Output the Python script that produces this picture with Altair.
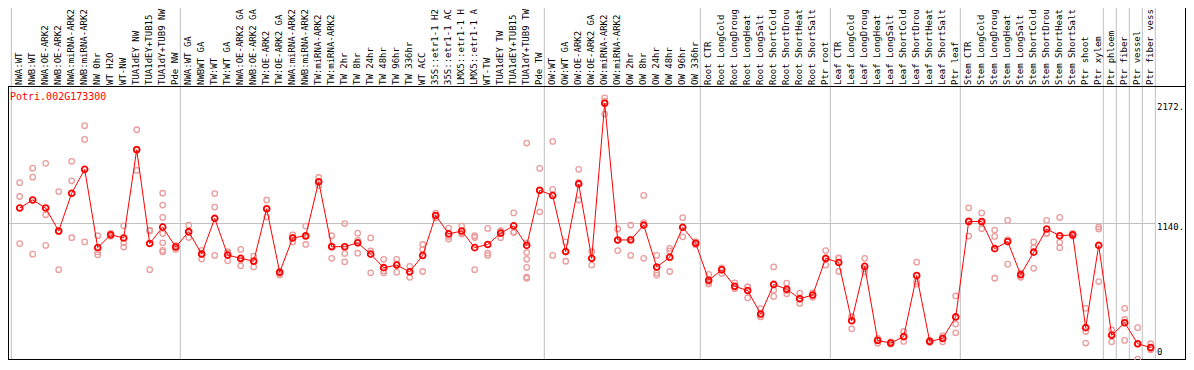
import altair as alt
import pandas as pd

gene = "Potri.002G173300"

labels = [
    "NWA:WT", "NWB:WT", "NWA:OE-ARK2", "NWB:OE-ARK2", "NWA:miRNA-ARK2", "NWB:miRNA-ARK2",
    "NW 0hr", "WT H2O", "WT-NW", "TUA1dEY NW", "TUA1dEY+TUB15", "TUA1dY+TUB9 NW", "Pde NW",
    "NWA:WT GA", "NWBWT GA", "TW:WT", "TW:WT GA", "NWA:OE-ARK2 GA", "NWB:OE-ARK2 GA",
    "TW:OE-ARK2", "TW:OE-ARK2 GA", "NWA:miRNA-ARK2", "NWB:miRNA-ARK2", "TW:miRNA-ARK2",
    "TW:miRNA-ARK2", "TW 2hr", "TW 8hr", "TW 24hr", "TW 48hr", "TW 96hr", "TW 336hr", "WT ACC",
    "35S::etr1-1 H2", "35S::etr1-1 AC", "LMX5::etr1-1 H", "LMX5::etr1-1 A", "WT-TW",
    "TUA1dEY TW", "TUA1dEY+TUB15", "TUA1dY+TUB9 TW", "Pde TW",
    "OW:WT", "OW:WT GA", "OW:OE-ARK2", "OW:OE-ARK2 GA", "OW:miRNA-ARK2", "OW:miRNA-ARK2",
    "OW 2hr", "OW 8hr", "OW 24hr", "OW 48hr", "OW 96hr", "OW 336hr",
    "Root CTR", "Root LongCold", "Root LongDroug", "Root LongHeat", "Root LongSalt",
    "Root ShortCold", "Root ShortDrou", "Root ShortHeat", "Root ShortSalt", "Ptr root",
    "Leaf CTR", "Leaf LongCold", "Leaf LongDroug", "Leaf LongHeat", "Leaf LongSalt",
    "Leaf ShortCold", "Leaf ShortDrou", "Leaf ShortHeat", "Leaf ShortSalt", "Ptr leaf",
    "Stem CTR", "Stem LongCold", "Stem LongDroug", "Stem LongHeat", "Stem LongSalt",
    "Stem ShortCold", "Stem ShortDrou", "Stem ShortHeat", "Stem ShortSalt", "Ptr shoot",
    "Ptr xylem", "Ptr phloem", "Ptr fiber", "Ptr vessel", "Ptr fiber vess",
]

means = [
    1273, 1342, 1273, 1076, 1400, 1605, 933, 1043, 1016, 1773, 968, 1109, 938,
    1070, 877, 1184, 869, 841, 816, 1267, 722, 1016, 1035, 1499, 941, 941, 974, 877,
    761, 783, 725, 866, 1209, 1051, 1076, 933, 960, 1057, 1120, 952, 1425,
    1381, 899, 1480, 841, 2172, 999, 999, 1126, 767, 850, 1107, 971,
    653, 742, 601, 564, 363, 617, 576, 495, 526, 841,
    805, 305, 772, 136, 114, 169, 694, 128, 153, 338,
    1157, 1157, 924, 985, 700, 894, 1093, 1035, 1043, 246, 952,
    180, 288, 108, 75,
]

reps = [
    [1491, 1372, 968], [1615, 1538, 877], [1657, 1215, 952], [1414, 1070, 744],
    [1674, 1507, 1018], [1980, 1862, 982], [1035, 896, 871], [1055, 1043, 1031],
    [1120, 974, 938], [1945, 1778, 1596], [1084, 1076, 744],
    [1400, 1298, 1192, 1054, 974, 910, 896], [952, 938, 918],
    [1126, 1064, 1020], [910, 886, 835], [1397, 1281, 866], [899, 887, 821],
    [918, 828, 777], [860, 821, 767], [1342, 1264, 1195], [730, 711, 697],
    [1043, 1023, 982], [1118, 1027, 960], [1535, 1496, 1466], [1035, 947, 841],
    [1140, 883, 811], [1057, 996, 885], [1016, 904, 717], [833, 733, 717],
    [833, 794, 722], [772, 725, 678], [960, 916, 728], [1230, 1209, 1188],
    [1101, 1029, 1007], [1118, 1059, 1051], [1035, 1020, 744], [1098, 885, 866],
    [1079, 1074, 1018], [1231, 1067, 1062], [1831, 974, 891, 833, 763, 680, 670],
    [1613, 1422, 1240],
    [1845, 1433, 866], [982, 899, 816], [1605, 1493, 1342], [899, 841, 783],
    [2219, 2190, 2080], [1093, 996, 908], [1126, 1005, 866], [1381, 1148, 841],
    [866, 717, 697], [927, 904, 728], [1190, 1105, 1026], [985, 971, 957],
    [703, 636, 620], [760, 755, 711], [631, 592, 580], [596, 595, 501],
    [410, 341, 338], [767, 568, 514], [628, 563, 537], [543, 488, 454],
    [545, 526, 507], [908, 832, 783],
    [844, 843, 728], [340, 339, 236], [841, 750, 725], [153, 144, 111],
    [124, 114, 104], [213, 166, 128], [808, 642, 620], [138, 128, 118],
    [178, 157, 124], [518, 277, 202],
    [1275, 1164, 1032], [1231, 1145, 1095], [1084, 1029, 670], [1167, 1001, 791],
    [717, 705, 678], [982, 933, 755], [1167, 1057, 1055], [1192, 979, 933],
    [1055, 1043, 1031], [412, 213, 114], [1112, 1093, 642],
    [227, 189, 124], [412, 316, 136], [246, 105, -25], [108, 61, 56],
]

group_sizes = [13, 28, 12, 10, 10, 11, 1, 1, 1, 1]

tick_values = [2172, 1140]
tick_texts = ["2172.", "1140."]
zero_value = [0]
zero_text = ["0"]
grid_values = [1140]

# ---- layout / styling ----
W, H = 1178, 352
COL_PX = 13.0
FIRST_PX = 11.7
x_lo = -FIRST_PX / COL_PX
x_domain = [x_lo, x_lo + W / COL_PX]
px_per_unit = 0.116476
zero_px = 348.3
y_domain = [(zero_px - H) / px_per_unit, zero_px / px_per_unit]

RED = "#ff0000"
PINK = "#eb9c9c"
GRID = "#c0c0c0"
FONT = "DejaVu Sans Mono"
frame_top = 78.5
frame_bottom = H - 0.5
TICK_X = 1149

xs = alt.Scale(domain=x_domain, nice=False, zero=False)
ys = alt.Scale(domain=y_domain, nice=False, zero=False)

mean_df = pd.DataFrame({"idx": list(range(len(labels))), "label": labels, "value": means})
rep_rows = [(i, v) for i, r in enumerate(reps) for v in r]
rep_df = pd.DataFrame(rep_rows, columns=["idx", "value"])

starts = [0]
for g in group_sizes:
    starts.append(starts[-1] + g)
sep_df = pd.DataFrame({"sx": [s - 1 + 4.6 / COL_PX for s in starts]})

one = pd.DataFrame({"k": [0]})

seps = alt.Chart(sep_df).mark_rule(color=GRID, strokeWidth=1).encode(
    x=alt.X("sx:Q", scale=xs, axis=None), y=alt.value(0), y2=alt.value(frame_bottom)
)
grid = alt.Chart(pd.DataFrame({"v": grid_values})).mark_rule(color=GRID, strokeWidth=1).encode(
    y=alt.Y("v:Q", scale=ys, axis=None), x=alt.value(0), x2=alt.value(TICK_X - 2)
)
f_top = alt.Chart(one).mark_rule(color="black", strokeWidth=1).encode(
    x=alt.value(0), x2=alt.value(W), y=alt.value(frame_top)
)
f_bot = alt.Chart(one).mark_rule(color="black", strokeWidth=1).encode(
    x=alt.value(0), x2=alt.value(W), y=alt.value(frame_bottom)
)
f_left = alt.Chart(one).mark_rule(color="black", strokeWidth=1).encode(
    x=alt.value(0.5), y=alt.value(frame_top), y2=alt.value(frame_bottom)
)
f_right = alt.Chart(one).mark_rule(color="black", strokeWidth=1).encode(
    x=alt.value(W - 0.5), y=alt.value(0), y2=alt.value(frame_bottom)
)

rep_pts = alt.Chart(rep_df).mark_point(
    shape="circle", filled=False, color=PINK, size=30, strokeWidth=1.3, opacity=1
).encode(
    x=alt.X("idx:Q", scale=xs, axis=None), y=alt.Y("value:Q", scale=ys, axis=None)
)
mean_line = alt.Chart(mean_df).mark_line(color=RED, strokeWidth=1).encode(
    x=alt.X("idx:Q", scale=xs, axis=None), y=alt.Y("value:Q", scale=ys, axis=None)
)
mean_pts = alt.Chart(mean_df).mark_point(
    shape="circle", filled=False, color=RED, size=34, strokeWidth=1.8, opacity=1
).encode(
    x=alt.X("idx:Q", scale=xs, axis=None), y=alt.Y("value:Q", scale=ys, axis=None)
)

col_labels = alt.Chart(mean_df).mark_text(
    angle=270, align="left", baseline="middle", font=FONT, fontSize=9, color="black", dy=-1
).encode(
    x=alt.X("idx:Q", scale=xs, axis=None), y=alt.value(77), text="label:N"
)

title = alt.Chart(pd.DataFrame({"t": [gene]})).mark_text(
    align="left", baseline="middle", font=FONT, fontSize=10, color=RED
).encode(x=alt.value(2), y=alt.value(88.5), text="t:N")

ticks = alt.Chart(pd.DataFrame({"v": tick_values, "t": tick_texts})).mark_text(
    align="left", baseline="middle", font=FONT, fontSize=9, color="black", dy=3.5
).encode(x=alt.value(TICK_X), y=alt.Y("v:Q", scale=ys, axis=None), text="t:N")
zero_tick = alt.Chart(pd.DataFrame({"v": zero_value, "t": zero_text})).mark_text(
    align="left", baseline="middle", font=FONT, fontSize=9, color="black", dy=-4
).encode(x=alt.value(TICK_X), y=alt.Y("v:Q", scale=ys, axis=None), text="t:N")

chart = alt.layer(
    seps, grid, f_top, f_bot, f_left, f_right, rep_pts, mean_line, mean_pts,
    col_labels, title, ticks, zero_tick
).properties(
    width=W, height=H, padding=0, autosize=alt.AutoSizeParams(type="none"),
    background="white"
).configure_view(strokeWidth=0)

chart.save("out.html", embed_options={"renderer": "svg", "actions": False})
